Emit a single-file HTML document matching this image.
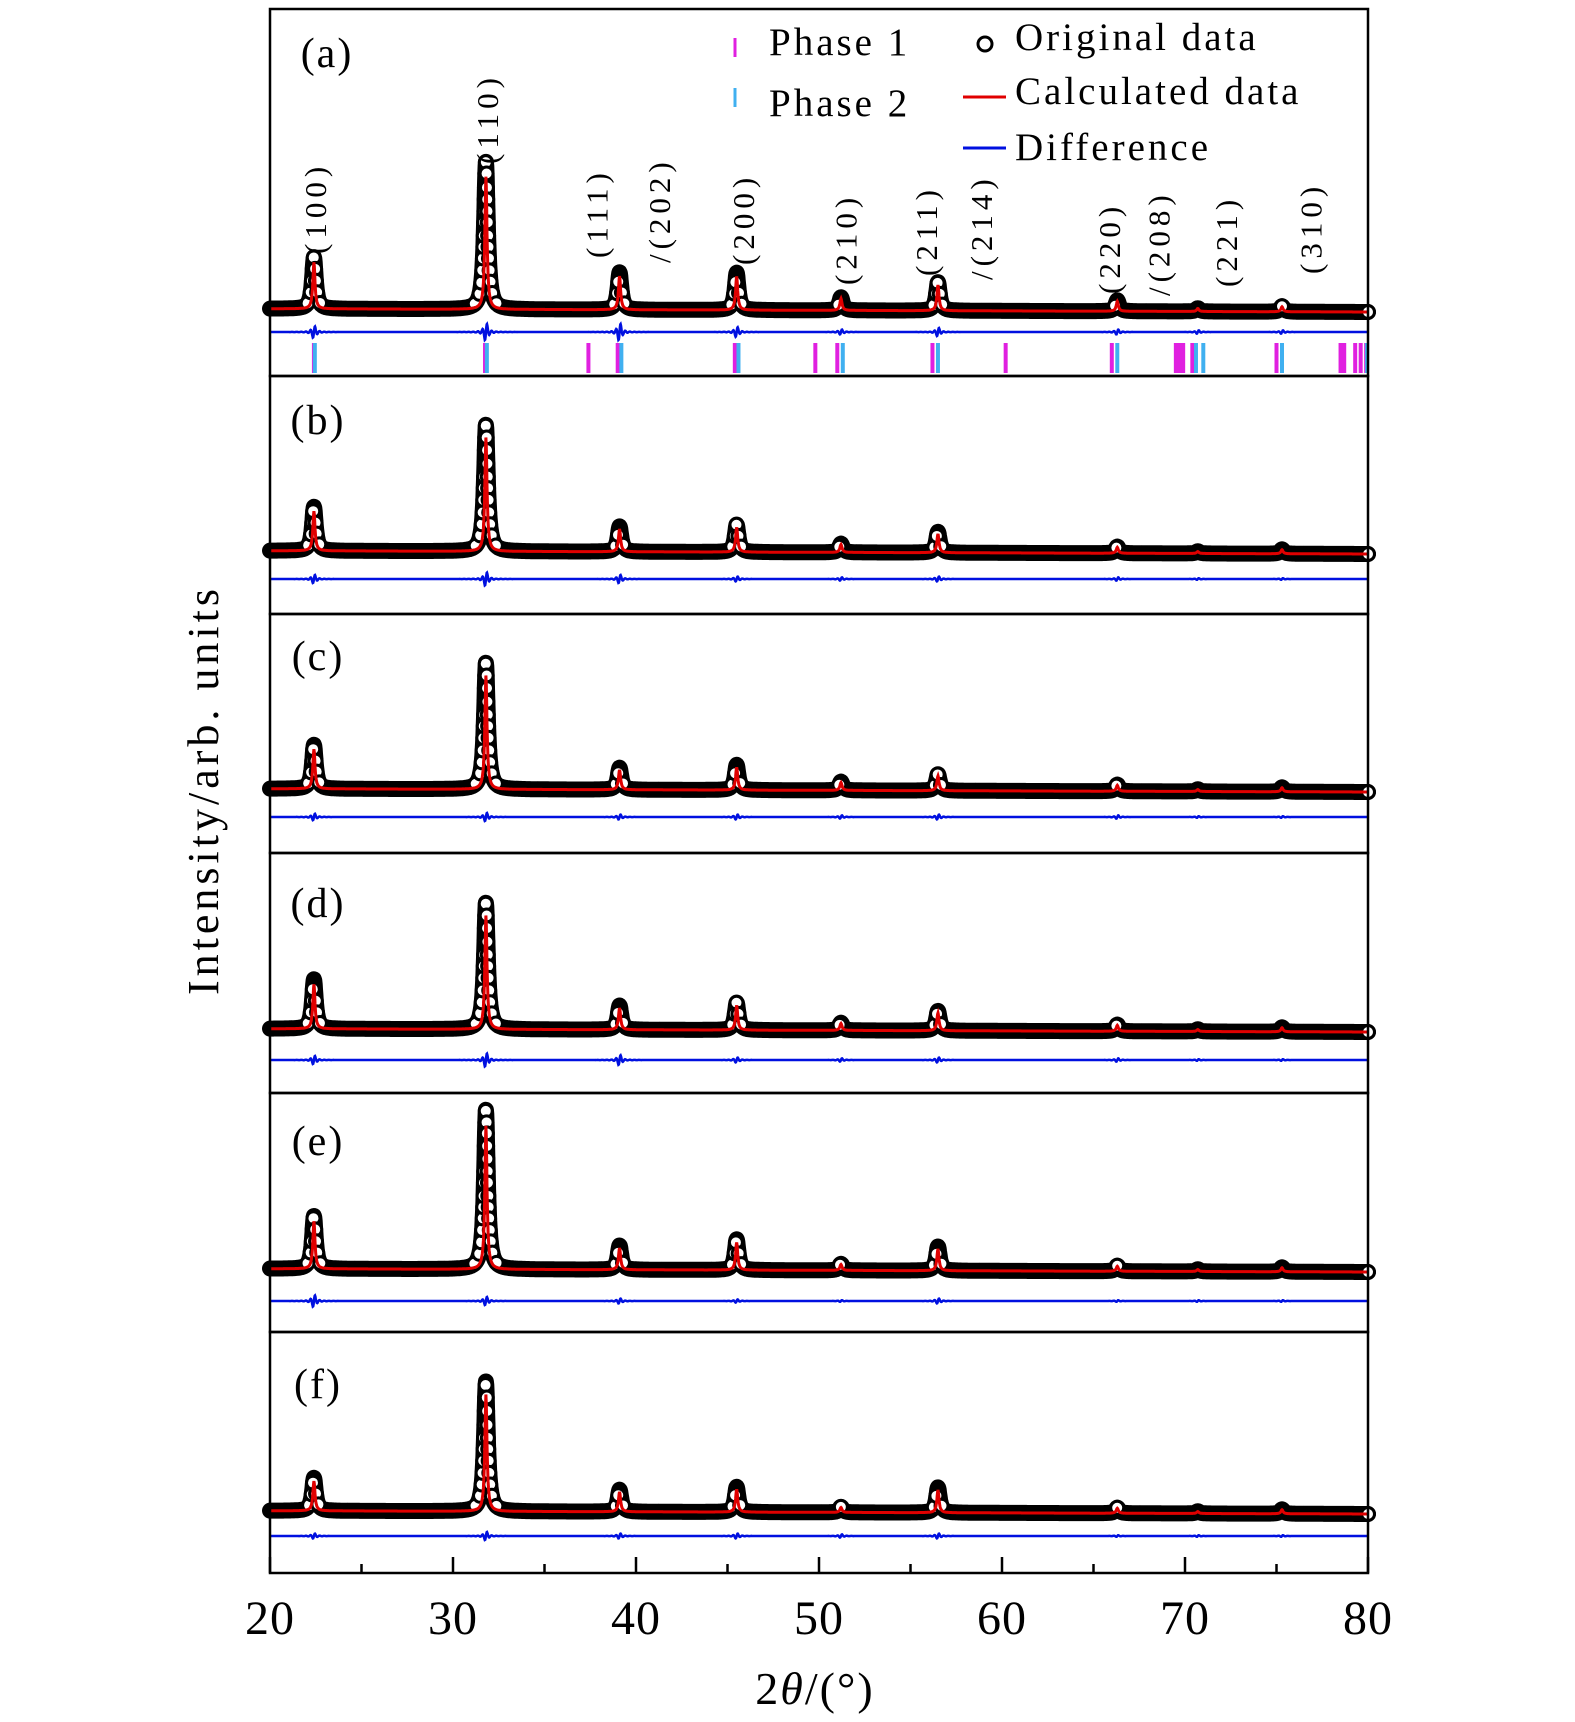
<!DOCTYPE html>
<html><head><meta charset="utf-8"><style>
body{margin:0;background:#fff}
svg{display:block;font-family:"Liberation Serif",serif}
</style></head><body>
<svg id="chart" width="1575" height="1722" viewBox="0 0 1575 1722" xmlns="http://www.w3.org/2000/svg">
<g id="plots"></g>
<g id="frame" fill="none" stroke="#000" stroke-width="2.5"></g>
<g id="legend" font-size="39" letter-spacing="3">
  <line x1="735" y1="38" x2="735" y2="57" stroke="#e020e0" stroke-width="3"/>
  <text x="769" y="55">Phase 1</text>
  <line x1="735" y1="88" x2="735" y2="107" stroke="#40b0f0" stroke-width="3"/>
  <text x="769" y="116">Phase 2</text>
  <circle cx="985" cy="44" r="7" fill="none" stroke="#000" stroke-width="3"/>
  <text x="1015" y="50">Original data</text>
  <line x1="963" y1="97" x2="1006" y2="97" stroke="#e00000" stroke-width="3"/>
  <text x="1015" y="104">Calculated data</text>
  <line x1="963" y1="148" x2="1006" y2="148" stroke="#0010e0" stroke-width="3"/>
  <text x="1015" y="160">Difference</text>
</g>
<g id="labels"></g>
<text transform="translate(218,790) rotate(-90)" text-anchor="middle" font-size="44" letter-spacing="4">Intensity/arb. units</text>
<text x="815" y="1704" text-anchor="middle" font-size="46" letter-spacing="2">2<tspan font-style="italic">θ</tspan>/(°)</text>
</svg>
<script>
const NS="http://www.w3.org/2000/svg";
const peakPos=[22.4,31.8,39.1,45.5,51.2,56.5,66.3,70.7,75.3];
const panelNames=["a","b","c","d","e","f"];
const heightsA=[47,134,34,34,12,26,10,3,5];
const heightsB=[40,115,23,25,8,19,6,2,4];
const heightsC=[40,115,20,23,8,15,6,2,4];
const heightsD=[45,115,22,25,7,18,6,2,4];
const heightsE=[48,145,22,28,6,22,5,2,4];
const heightsF=[30,118,20,23,5,23,5,2,4];
const diffA=[7,10,10,6,3,5,3,2,2];
const diffB=[5,8,5,3,2,3,2,1,1];
const diffC=[4,5,3,3,2,3,2,1,1];
const diffD=[5,8,6,3,2,3,2,1,1];
const diffE=[7,5,3,2,1,3,1,1,1];
const diffF=[3,5,3,3,2,3,1,1,1];
const phase1Ticks=[22.4,31.75,37.4,39.0,45.4,49.8,51.0,56.2,60.2,66.0,69.5,69.7,69.9,70.4,75.0,78.5,78.7,79.3,79.6,79.9];
const phase2Ticks=[22.45,31.85,39.2,45.6,51.3,56.5,66.3,70.6,71.0,75.3,79.95];
const xTicks=[20,30,40,50,60,70,80];
const hklLabels=["(100)","(110)","(111)","/(202)","(200)","(210)","(211)","/(214)","(220)","/(208)","(221)","(310)"];
const hklX=[22.5,31.9,37.9,41.3,45.9,51.5,55.9,58.9,65.9,68.6,72.3,76.9];
const hklBottom=[254,164,258,263,265,285,276,280,294,296,287,274];

const heights=[heightsA,heightsB,heightsC,heightsD,heightsE,heightsF];
const diffs=[diffA,diffB,diffC,diffD,diffE,diffF];
const baselines=[312,554,792,1032,1272,1514];
const diffLines=[332,579,817,1060,1301,1536];
const panelTops=[9,376,614,853,1093,1332];
const panelBottoms=[376,614,853,1093,1332,1573];
const X0=270,X1=1368,K=1.1;
const x=t=>X0+(t-20)/60*(X1-X0);
function prof(t,h,w){let s=0;for(let i=0;i<peakPos.length;i++){const d=(t-peakPos[i])/w;s+=h[i]/(1+d*d);}return s;}
const plots=document.getElementById('plots');
function mk(tag,attrs,parent){const e=document.createElementNS(NS,tag);for(const k in attrs)e.setAttribute(k,attrs[k]);(parent||plots).appendChild(e);return e;}
const frame=document.getElementById('frame');
const panelLabelY=[53,420,656,903,1141,1384];
for(let p=0;p<6;p++){
  const g=mk('g',{});
  
  
  const b=baselines[p],h=heights[p];
  const slope=t=>3*(80-t)/60;
  let obs="",calc="",dif="";
  for(let t=20;t<=80.001;t+=0.02){
    const yo=b-K*(slope(t)+prof(t,h,0.12));
    const yc=b-K*(slope(t)+0.9*prof(t,h,0.07));
    obs+=(obs?"L":"M")+x(t).toFixed(1)+","+yo.toFixed(1);
    calc+=(calc?"L":"M")+x(t).toFixed(1)+","+yc.toFixed(1);
    let d=0;for(let i=0;i<peakPos.length;i++){const q=(t-peakPos[i])/0.12;d+=diffs[p][i]*Math.sin(q*3)/(1+q*q);}
    dif+=(dif?"L":"M")+x(t).toFixed(1)+","+(diffLines[p]-d).toFixed(1);
  }
  const band=mk('path',{d:obs,fill:"none",stroke:"#000","stroke-width":16,"stroke-linejoin":"round","stroke-linecap":"round"},g);
  
  
  let lx=-100,ly=-100;
  for(let t=20;t<=80.001;t+=0.005){
    const v=prof(t,h,0.12);
    if(v>5){
      const cx=x(t),cy=b-K*(slope(t)+v);
      if(Math.hypot(cx-lx,cy-ly)<11)continue;
      lx=cx;ly=cy;
      const c=mk('circle',{cx:cx,cy:cy,r:6.5,fill:"#fff",stroke:"#000","stroke-width":3},g);
      
      
    }
  }
  const endc=mk('circle',{cx:X1,cy:b,r:6.5,fill:"#fff",stroke:"#000","stroke-width":3},g);
  
  
  const cl=mk('path',{d:calc,fill:"none",stroke:"#e00000","stroke-width":3},g);
  
  
  const dl=mk('path',{d:dif,fill:"none",stroke:"#0010e0","stroke-width":2.5},g);
  
  
  const r=mk('rect',{x:X0,y:panelTops[p],width:X1-X0,height:panelBottoms[p]-panelTops[p]},frame);
  
  
  const lbl=mk('text',{x:p==0?327:318,y:panelLabelY[p]+14,"font-size":42,"text-anchor":"middle","letter-spacing":2},document.getElementById('labels'));
  lbl.textContent="("+panelNames[p]+")";
  
  
}
phase1Ticks.forEach(t=>{const l=mk('line',{x1:x(t),x2:x(t),y1:343,y2:373,stroke:"#e020e0","stroke-width":4});
  
  });
phase2Ticks.forEach(t=>{const l=mk('line',{x1:x(t),x2:x(t),y1:343,y2:373,stroke:"#40b0f0","stroke-width":4});
  
  });
for(let t=20;t<=80;t+=5){
  const major=t%10==0;
  const l=mk('line',{x1:x(t),x2:x(t),y1:1573,y2:1573-(major?16:9),stroke:"#000","stroke-width":2.5});
  
  
}
xTicks.forEach(t=>{const e=mk('text',{x:x(t),y:1634,"text-anchor":"middle","font-size":48,"letter-spacing":1});e.textContent=t;
  
  });
const labs=document.getElementById('labels');
hklLabels.forEach((s,i)=>{const e=mk('text',{transform:`translate(${x(hklX[i])+10},${hklBottom[i]}) rotate(-90)`,"font-size":31,"letter-spacing":5},labs);e.textContent=s;
  
  });
</script>
</body></html>
